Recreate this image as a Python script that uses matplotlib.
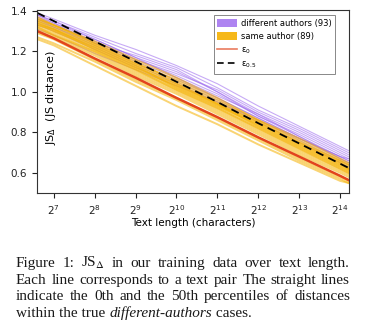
import matplotlib
matplotlib.use('Agg')
import matplotlib.pyplot as plt
from matplotlib.lines import Line2D
from matplotlib.patches import Patch
from matplotlib.ticker import LogFormatterSciNotation, FixedLocator

# text length grid (log2 of characters)
log_len = [6.6, 7, 8, 9, 10, 11, 12, 13, 14, 14.2]

# JS distance per text pair, different authors
diff_authors = [
    [1.39, 1.36, 1.28, 1.21, 1.13, 1.04, 0.93, 0.83, 0.73, 0.71],
    [1.38, 1.35, 1.27, 1.19, 1.12, 1.02, 0.91, 0.82, 0.72, 0.70],
    [1.37, 1.34, 1.26, 1.17, 1.10, 1.00, 0.89, 0.80, 0.70, 0.68],
    [1.36, 1.33, 1.25, 1.16, 1.08, 0.99, 0.88, 0.79, 0.69, 0.67],
    [1.38, 1.34, 1.24, 1.15, 1.07, 0.98, 0.89, 0.78, 0.68, 0.66],
    [1.35, 1.32, 1.23, 1.14, 1.06, 0.97, 0.87, 0.77, 0.67, 0.65],
    [1.37, 1.33, 1.25, 1.16, 1.09, 1.01, 0.90, 0.81, 0.71, 0.69],
    [1.34, 1.31, 1.22, 1.13, 1.05, 0.96, 0.86, 0.76, 0.66, 0.64],
    [1.36, 1.32, 1.24, 1.18, 1.11, 1.00, 0.88, 0.78, 0.67, 0.65],
    [1.33, 1.30, 1.21, 1.12, 1.04, 0.95, 0.85, 0.75, 0.65, 0.63],
    [1.38, 1.35, 1.26, 1.17, 1.07, 0.97, 0.87, 0.77, 0.68, 0.67],
    [1.31, 1.28, 1.19, 1.11, 1.03, 0.95, 0.86, 0.77, 0.68, 0.66],
]

# JS distance per text pair, same author
same_author = [
    [1.36, 1.33, 1.24, 1.15, 1.05, 0.95, 0.85, 0.75, 0.66, 0.64],
    [1.35, 1.32, 1.23, 1.13, 1.04, 0.94, 0.84, 0.74, 0.65, 0.63],
    [1.34, 1.31, 1.22, 1.12, 1.03, 0.93, 0.83, 0.73, 0.64, 0.62],
    [1.33, 1.30, 1.21, 1.11, 1.02, 0.92, 0.82, 0.72, 0.63, 0.61],
    [1.32, 1.29, 1.20, 1.10, 1.01, 0.91, 0.81, 0.71, 0.62, 0.60],
    [1.31, 1.28, 1.19, 1.09, 1.00, 0.90, 0.80, 0.70, 0.61, 0.59],
    [1.30, 1.27, 1.18, 1.08, 0.99, 0.89, 0.79, 0.69, 0.60, 0.58],
    [1.37, 1.33, 1.25, 1.16, 1.07, 0.97, 0.86, 0.76, 0.66, 0.64],
    [1.29, 1.26, 1.16, 1.06, 0.97, 0.87, 0.77, 0.67, 0.58, 0.56],
    [1.27, 1.24, 1.15, 1.05, 0.96, 0.86, 0.76, 0.66, 0.57, 0.55],
    [1.34, 1.30, 1.22, 1.13, 1.02, 0.93, 0.84, 0.74, 0.64, 0.62],
    [1.33, 1.31, 1.21, 1.12, 1.03, 0.94, 0.83, 0.73, 0.63, 0.61],
    [1.35, 1.31, 1.23, 1.14, 1.04, 0.94, 0.85, 0.75, 0.65, 0.62],
    [1.32, 1.28, 1.20, 1.11, 1.01, 0.92, 0.82, 0.72, 0.62, 0.60],
    [1.26, 1.23, 1.13, 1.03, 0.93, 0.84, 0.74, 0.65, 0.56, 0.55],
    [1.36, 1.33, 1.24, 1.14, 1.06, 0.96, 0.86, 0.77, 0.67, 0.65],
]

# percentile lines of the different-authors distances
eps_0 = [1.30, 1.265, 1.165, 1.07, 0.97, 0.875, 0.775, 0.68, 0.585, 0.565]
eps_05 = [1.39, 1.35, 1.25, 1.15, 1.05, 0.95, 0.845, 0.745, 0.645, 0.625]

x_ticks = [2 ** k for k in range(7, 15)]
y_ticks = [0.6, 0.8, 1.0, 1.2, 1.4]

caption_lines = [
    ['Figure', '1:', 'JS$_{\\Delta}$', 'in', 'our', 'training', 'data', 'over', 'text', 'length.'],
    ['Each', 'line', 'corresponds', 'to', 'a', 'text', 'pair', 'The', 'straight', 'lines'],
    ['indicate', 'the', '0th', 'and', 'the', '50th', 'percentiles', 'of', 'distances'],
]
caption_last = [('within the true ', 'normal'), ('different-authors', 'italic'), (' cases.', 'normal')]

PURPLE = '#9a66ee'
ORANGE = '#f5b100'
RED = '#e2441c'

xs = [2 ** v for v in log_len]

fig = plt.figure(figsize=(3.66, 3.30), dpi=100)
ax = fig.add_axes([0.101, 0.415, 0.853, 0.555])

for row in diff_authors:
    ax.plot(xs, row, color=PURPLE, lw=0.8, alpha=0.55)
for row in same_author:
    ax.plot(xs, row, color=ORANGE, lw=1.4, alpha=0.55)
ax.plot(xs, eps_0, color=RED, lw=1.8)
ax.plot(xs, eps_05, color='black', lw=1.3, dashes=(4.5, 3))

ax.set_xscale('log', base=2)
ax.set_xlim(2 ** 6.59, 2 ** 14.22)
ax.set_ylim(0.5, 1.405)
ax.xaxis.set_major_locator(FixedLocator(x_ticks))
ax.xaxis.set_major_formatter(LogFormatterSciNotation(base=2))
ax.xaxis.set_minor_locator(FixedLocator([]))
ax.set_yticks(y_ticks)
ax.set_yticklabels(['%.1f' % v for v in y_ticks])
ax.tick_params(labelsize=7.5, length=3.5, width=0.8, colors='#222222')
for s in ax.spines.values():
    s.set_linewidth(0.8)
    s.set_color('#333333')

ax.set_xlabel('Text length (characters)', fontsize=7.5, labelpad=1)
ax.text(0.045, 0.52, 'JS$_{\\Delta}$  (JS distance)', rotation=90, fontsize=8,
        transform=ax.transAxes, ha='center', va='center')

handles = [
    Patch(facecolor=PURPLE, edgecolor='none', alpha=0.8),
    Patch(facecolor=ORANGE, edgecolor='none', alpha=0.9),
    Line2D([], [], color=RED, lw=1.2, alpha=0.7),
    Line2D([], [], color='black', lw=1.2, dashes=(4, 2.5)),
]
labels = ['different authors (93)', 'same author (89)', '\u03b5$_0$', '\u03b5$_{0.5}$']
leg = ax.legend(handles, labels, loc='upper right', bbox_to_anchor=(0.955, 0.97),
                fontsize=6.0, frameon=True, fancybox=False, framealpha=1,
                handlelength=2.4, handleheight=1.0, handletextpad=0.5,
                labelspacing=0.5, borderpad=0.4, borderaxespad=0)
leg.get_frame().set_edgecolor('#888888')
leg.get_frame().set_linewidth(0.7)

# caption, justified word by word
cap_props = dict(family='Liberation Serif', fontsize=11.0, color='#1a1a1a',
                 math_fontfamily='stix', va='baseline')
renderer = fig.canvas.get_renderer()
fw = fig.bbox.width
x0, x1 = 16 / 366, 350 / 366
base_y = [267, 284, 300]
for words, yp in zip(caption_lines, base_y):
    y = 1 - yp / 330
    texts = [fig.text(0, y, w, **cap_props) for w in words]
    widths = [t.get_window_extent(renderer).width / fw for t in texts]
    gap = (x1 - x0 - sum(widths)) / (len(words) - 1)
    x = x0
    for t, w in zip(texts, widths):
        t.set_x(x)
        x += w + gap

y = 1 - 317 / 330
x = x0
for s, style in caption_last:
    t = fig.text(x, y, s, style=style, **cap_props)
    x += t.get_window_extent(renderer).width / fw

fig.savefig('out.png', dpi=100)
